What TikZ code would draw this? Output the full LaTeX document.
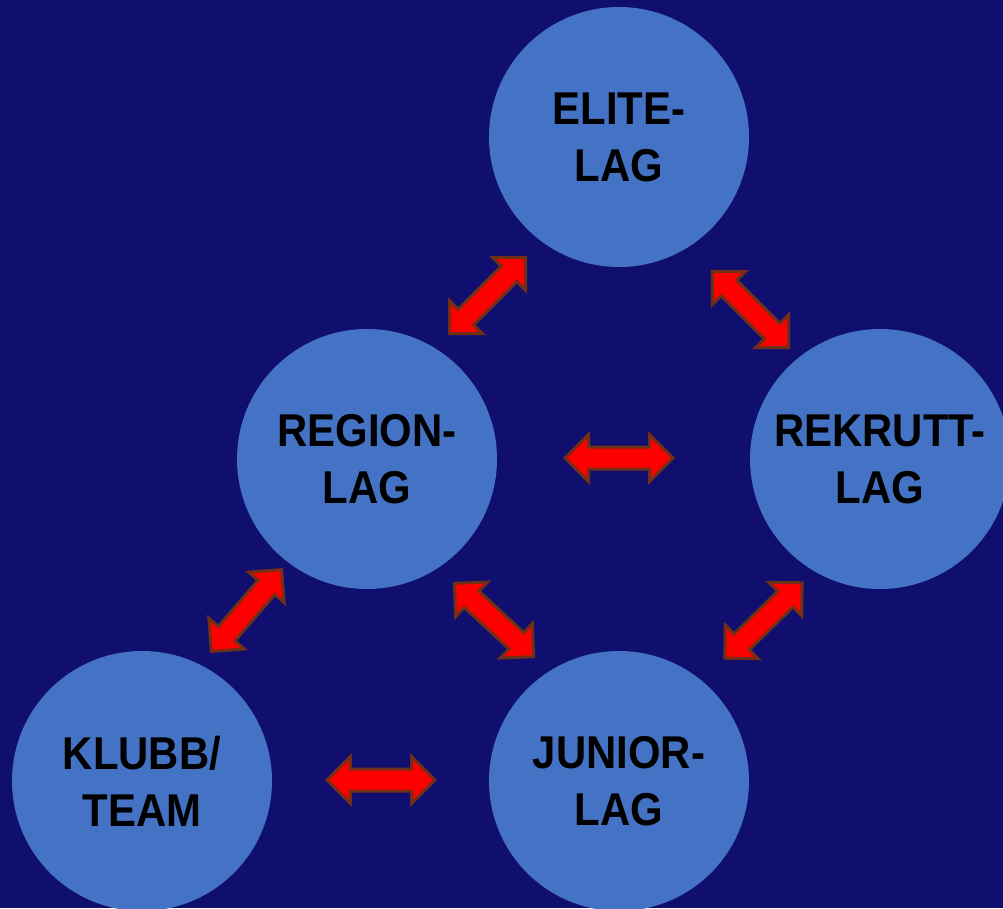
\documentclass[tikz,border=0pt]{standalone}
\usepackage{fontspec}
\setmainfont[FakeStretch=0.91]{Liberation Sans}
\usetikzlibrary{shapes.arrows}
\definecolor{bgblue}{RGB}{16,14,110}
\definecolor{lagblue}{RGB}{68,114,196}
\definecolor{pilrand}{RGB}{112,48,24}
\tikzset{
	lag/.style={circle,fill=lagblue,minimum size=260pt,inner sep=0pt,align=center,font=\bfseries\fontsize{46}{57}\selectfont},
	pil/.style={double arrow,fill=red,draw=pilrand,line width=3pt,minimum height=108pt,inner xsep=0pt,inner ysep=9.5pt,double arrow head extend=12.5pt}
}
\begin{document}
\begin{tikzpicture}[x=1pt,y=-1pt]
		\useasboundingbox (0,0) rectangle (1003,908);
		\fill [bgblue] (0,0) rectangle (1003,908);
		\node [lag] (elite) at (619,137) {ELITE-\\LAG};
		\node [lag] (region) at (367,459) {REGION-\\LAG};
		\node [lag] (rekrutt) at (880,459) {REKRUTT-\\LAG};
		\node [lag] (klubb) at (142,781) {KLUBB/\\TEAM};
		\node [lag] (junior) at (619,781) {JUNIOR-\\LAG};
		\node [pil,rotate=45] (p1) at (487.5,295.5) {};
		\node [pil,rotate=-45] (p2) at (750.5,309.5) {};
		\node [pil] (p3) at (619,458) {};
		\node [pil,rotate=49.3] (p4) at (246.5,610.5) {};
		\node [pil,rotate=-42.8] (p5) at (494,620) {};
		\node [pil,rotate=44.3] (p6) at (763.5,620.5) {};
		\node [pil] (p7) at (381,780) {};
	\end{tikzpicture}
\end{document}
